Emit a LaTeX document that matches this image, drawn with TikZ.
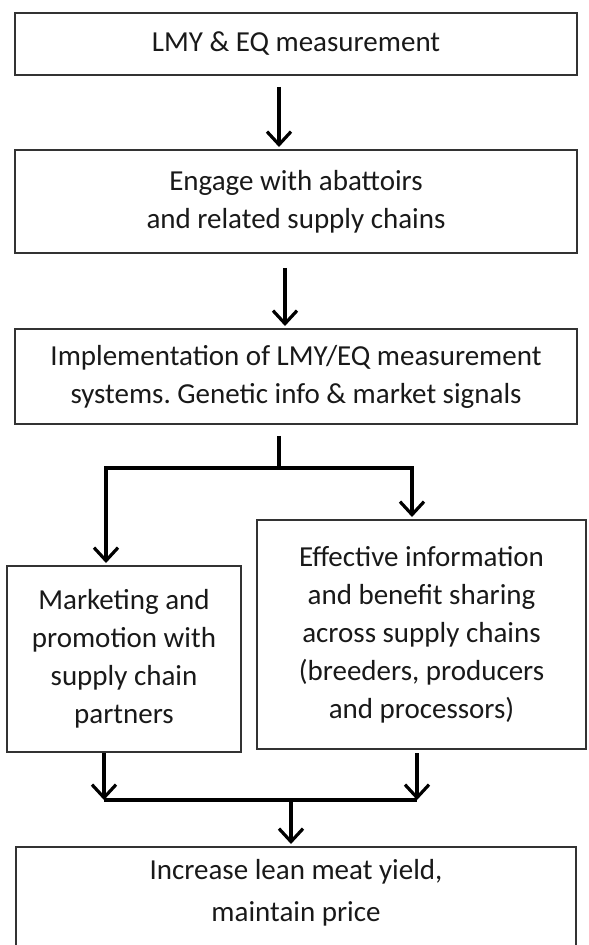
\documentclass[tikz,border=0pt]{standalone}
\usepackage{fontspec}
\setmainfont{Carlito}
\usepackage{tikz}
\usetikzlibrary{calc,positioning,arrows.meta}
\frenchspacing
\tikzset{
  stage/.style={
      draw=black!80,
      line width=1pt,
      align=center,
      inner sep=0pt,
      text=black!90,
      font=\fontsize{14.5}{19}\selectfont,
  },
  flow/.style={
      line width=1.6pt,
      -{Straight Barb[length=6.5pt,width=12pt]},
  },
  branch/.style={
      line width=1.6pt,
  }
}
\begin{document}
\begin{tikzpicture}[x=0.5pt,y=-0.5pt]
  \useasboundingbox (0,0) rectangle (588,945);
  \clip (0,0) rectangle (588,945);
  \node[stage,minimum width=281pt,minimum height=31pt](lmy) at (296,44){LMY \& EQ measurement};
  \node[stage,minimum width=281pt,minimum height=51.5pt](engage) at (296,201.5)
    {Engage with abattoirs\\and related supply chains};
  \node[stage,minimum width=281pt,minimum height=47.5pt](impl) at (296,376.5)
    {Implementation of LMY/EQ measurement\\systems. Genetic info \& market signals};
  \node[stage,minimum width=117pt,minimum height=93pt](market) at (124,659)
    {Marketing and\\promotion with\\supply chain\\partners};
  \node[stage,minimum width=164.5pt,minimum height=114.5pt](share) at (421.5,634.5)
    {Effective information\\and benefit sharing\\across supply chains\\(breeders, producers\\and processors)};
  \node[stage,minimum width=280pt,inner ysep=6pt,text depth=50pt,anchor=north](lean) at (296,846)
    {Increase lean meat yield,\\[2pt]maintain price};
  % split and merge points
  \coordinate (split) at (279,468);
  \coordinate (mleft) at (104,800);
  \coordinate (mright) at (417,800);
  \coordinate (merge) at (291,800);
  \draw[flow] ([xshift=-8.5pt,yshift=-5.5pt]lmy.south) -- ([xshift=-8.5pt,yshift=1pt]engage.north);
  \draw[flow] ([xshift=-5.5pt,yshift=-7pt]engage.south) -- ([xshift=-5.5pt,yshift=1pt]impl.north);
  \draw[branch] ([xshift=-8.5pt,yshift=-5.5pt]impl.south) -- (split);
  \draw[flow] (split) -| ([xshift=-9pt,yshift=1pt]market.north);
  \draw[flow] (split) -| ([xshift=-4.75pt,yshift=1pt]share.north);
  \draw[flow] (market.south -| mleft) -- (mleft);
  \draw[flow] ([yshift=-1.5pt]share.south -| mright) -- (mright);
  \draw[branch] (mleft) -- (mright);
  \draw[flow] (merge) -- ([xshift=-2.5pt,yshift=1pt]lean.north);
\end{tikzpicture}
\end{document}
